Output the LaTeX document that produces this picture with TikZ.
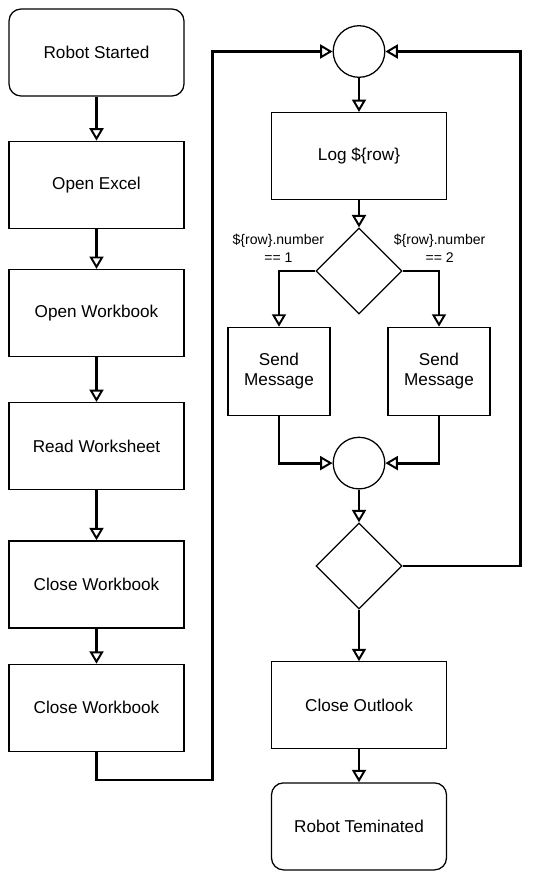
\documentclass[tikz,border=0pt]{standalone}
\usepackage{fontspec}
\setmainfont{Liberation Sans}
\usetikzlibrary{shapes,arrows.meta,positioning,calc}

\begin{document}
\begin{tikzpicture}[
    node distance=1cm,
    terminal/.style={rectangle, rounded corners=0.3cm, draw, line width=0.9pt, minimum width=4.375cm, minimum height=2.175cm, align=center, font=\fontsize{12.2}{14.5}\selectfont},
    process/.style={rectangle, draw, line width=0.9pt, minimum width=4.375cm, minimum height=2.175cm, align=center, font=\fontsize{12.2}{14.5}\selectfont},
    message/.style={process, minimum width=2.55cm, minimum height=2.2cm},
    junction/.style={circle, draw, line width=0.9pt, minimum size=1.29cm, inner sep=0pt},
    decision/.style={diamond, draw, line width=0.9pt, minimum width=2.15cm, minimum height=2.15cm, inner sep=0pt},
    condition/.style={align=center, font=\fontsize{10}{12.8}\selectfont},
    arrow/.style={-{Triangle[open, length=3.1mm, width=3.5mm, line width=1.4pt]}, line width=2pt}
]
\useasboundingbox (-2.4125,1.3125) rectangle (10.9125,-20.7125);

% Excel steps
\node[terminal] (start) {Robot Started};
\node[process, below=1.1cm of start] (excel) {Open Excel};
\node[process, below=1.0cm of excel] (openwb) {Open Workbook};
\node[process, below=1.12cm of openwb] (readws) {Read Worksheet};
\node[process, below=1.25cm of readws] (closewb) {Close Workbook};
\node[process, below=0.88cm of closewb] (closewb2) {Close Workbook};
\draw[arrow] (start) -- (excel);
\draw[arrow] (excel) -- (openwb);
\draw[arrow] (openwb) -- (readws);
\draw[arrow] (readws) -- (closewb);
\draw[arrow] (closewb) -- (closewb2);

% Row loop
\node[junction] (merge) at (6.5625,0.025) {};
\node[process, below=0.85cm of merge] (log) {Log \$\{row\}};
\node[decision, below=0.68cm of log] (check) {};
\node[message, below=0.3cm of check, xshift=-2cm] (send1) {Send\\Message};
\node[message, below=0.3cm of check, xshift=2cm] (send2) {Send\\Message};
\node[junction, below=3.05cm of check] (join) {};
\node[decision, below=0.82cm of join] (done) {};
\draw[arrow] (merge) -- (log);
\draw[arrow] (log) -- (check);
\draw[arrow] (check.west) -| (send1.north);
\draw[arrow] (check.east) -| (send2.north);
\draw[arrow] (send1.south) |- (join.west);
\draw[arrow] (send2.south) |- (join.east);
\draw[arrow] (join) -- (done);

% Conditions
\node[condition] (cond1) at ($(check.west)+(-0.925cm,0.575cm)$) {\$\{row\}.number\\== 1};
\node[condition] (cond2) at ($(check.east)+(0.925cm,0.575cm)$) {\$\{row\}.number\\== 2};

% Back edges
\coordinate (loopL) at ($(closewb2.south)+(2.9cm,-0.7cm)$);
\coordinate (loopR) at ($(done.east)+(2.95cm,0)$);
\draw[arrow] (closewb2.south) |- (loopL) |- (merge.west);
\draw[arrow] (done.east) -- (loopR) |- (merge.east);

% Outlook steps
\node[process, below=1.29cm of done] (outlook) {Close Outlook};
\node[terminal, below=0.82cm of outlook] (stop) {Robot Teminated};
\draw[arrow] (done) -- (outlook);
\draw[arrow] (outlook) -- (stop);

\end{tikzpicture}
\end{document}
